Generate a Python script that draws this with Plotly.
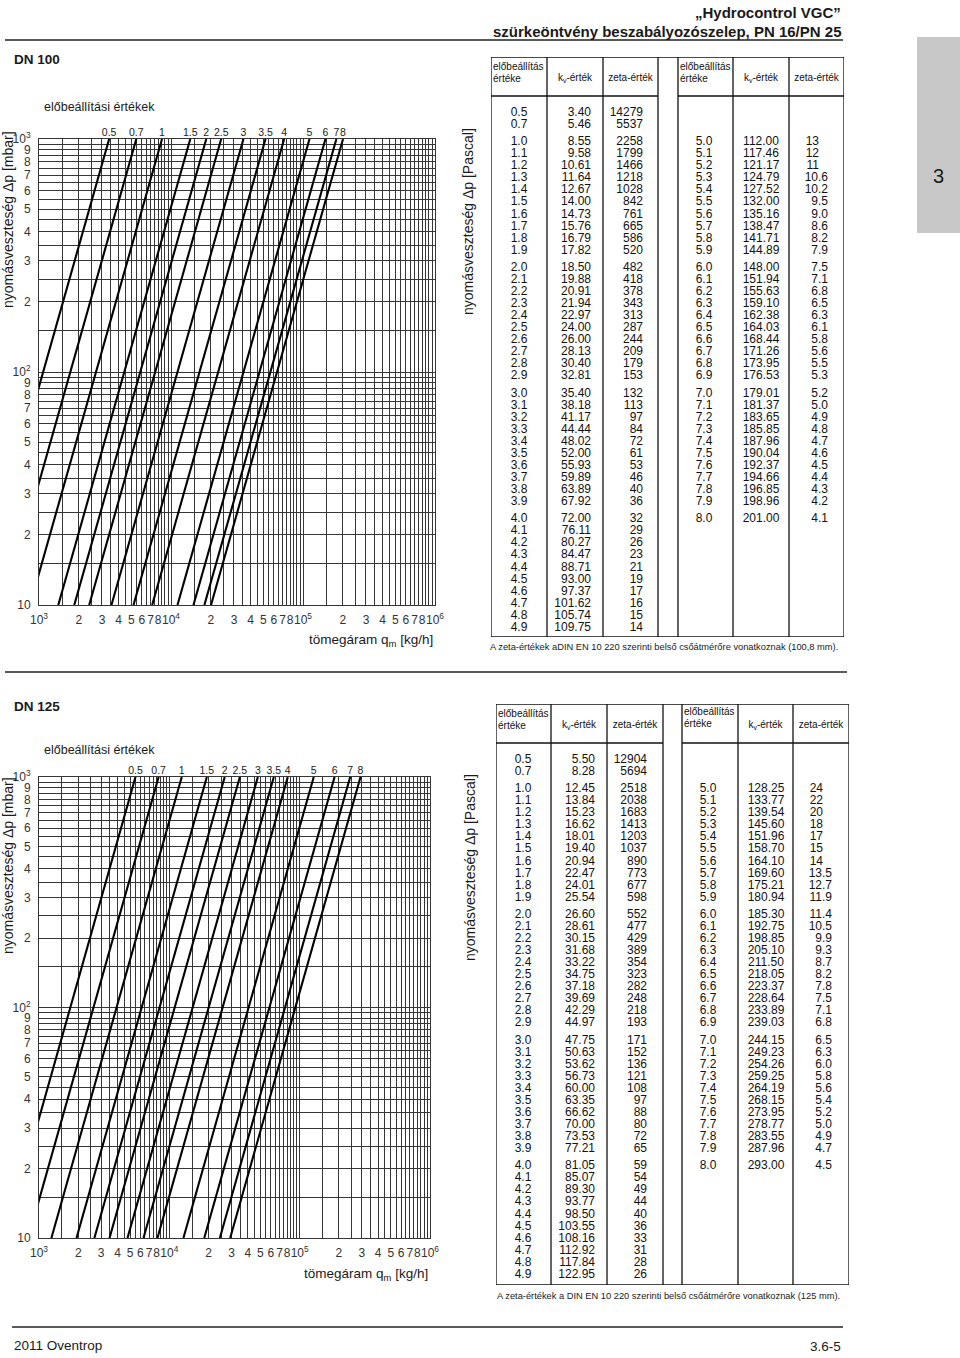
import math
import plotly.graph_objects as go

W, H = 960, 1358

# ---------------- DN 100 table data ----------------
presets_100 = [0.5, 0.7,
               1.0, 1.1, 1.2, 1.3, 1.4, 1.5, 1.6, 1.7, 1.8, 1.9,
               2.0, 2.1, 2.2, 2.3, 2.4, 2.5, 2.6, 2.7, 2.8, 2.9,
               3.0, 3.1, 3.2, 3.3, 3.4, 3.5, 3.6, 3.7, 3.8, 3.9,
               4.0, 4.1, 4.2, 4.3, 4.4, 4.5, 4.6, 4.7, 4.8, 4.9,
               5.0, 5.1, 5.2, 5.3, 5.4, 5.5, 5.6, 5.7, 5.8, 5.9,
               6.0, 6.1, 6.2, 6.3, 6.4, 6.5, 6.6, 6.7, 6.8, 6.9,
               7.0, 7.1, 7.2, 7.3, 7.4, 7.5, 7.6, 7.7, 7.8, 7.9,
               8.0]
kv_100 = [3.40, 5.46,
          8.55, 9.58, 10.61, 11.64, 12.67, 14.00, 14.73, 15.76, 16.79, 17.82,
          18.50, 19.88, 20.91, 21.94, 22.97, 24.00, 26.00, 28.13, 30.40, 32.81,
          35.40, 38.18, 41.17, 44.44, 48.02, 52.00, 55.93, 59.89, 63.89, 67.92,
          72.00, 76.11, 80.27, 84.47, 88.71, 93.00, 97.37, 101.62, 105.74, 109.75,
          112.00, 117.46, 121.17, 124.79, 127.52, 132.00, 135.16, 138.47, 141.71, 144.89,
          148.00, 151.94, 155.63, 159.10, 162.38, 164.03, 168.44, 171.26, 173.95, 176.53,
          179.01, 181.37, 183.65, 185.85, 187.96, 190.04, 192.37, 194.66, 196.85, 198.96,
          201.00]
zeta_100 = [14279, 5537,
            2258, 1799, 1466, 1218, 1028, 842, 761, 665, 586, 520,
            482, 418, 378, 343, 313, 287, 244, 209, 179, 153,
            132, 113, 97, 84, 72, 61, 53, 46, 40, 36,
            32, 29, 26, 23, 21, 19, 17, 16, 15, 14,
            13, 12, 11, 10.6, 10.2, 9.5, 9.0, 8.6, 8.2, 7.9,
            7.5, 7.1, 6.8, 6.5, 6.3, 6.1, 5.8, 5.6, 5.5, 5.3,
            5.2, 5.0, 4.9, 4.8, 4.7, 4.6, 4.5, 4.4, 4.3, 4.2,
            4.1]

# ---------------- DN 125 table data ----------------
presets_125 = list(presets_100)
kv_125 = [5.50, 8.28,
          12.45, 13.84, 15.23, 16.62, 18.01, 19.40, 20.94, 22.47, 24.01, 25.54,
          26.60, 28.61, 30.15, 31.68, 33.22, 34.75, 37.18, 39.69, 42.29, 44.97,
          47.75, 50.63, 53.62, 56.73, 60.00, 63.35, 66.62, 70.00, 73.53, 77.21,
          81.05, 85.07, 89.30, 93.77, 98.50, 103.55, 108.16, 112.92, 117.84, 122.95,
          128.25, 133.77, 139.54, 145.60, 151.96, 158.70, 164.10, 169.60, 175.21, 180.94,
          185.30, 192.75, 198.85, 205.10, 211.50, 218.05, 223.37, 228.64, 233.89, 239.03,
          244.15, 249.23, 254.26, 259.25, 264.19, 268.15, 273.95, 278.77, 283.55, 287.96,
          293.00]
zeta_125 = [12904, 5694,
            2518, 2038, 1683, 1413, 1203, 1037, 890, 773, 677, 598,
            552, 477, 429, 389, 354, 323, 282, 248, 218, 193,
            171, 152, 136, 121, 108, 97, 88, 80, 72, 65,
            59, 54, 49, 44, 40, 36, 33, 31, 28, 26,
            24, 22, 20, 18, 17, 15, 14, 13.5, 12.7, 11.9,
            11.4, 10.5, 9.9, 9.3, 8.7, 8.2, 7.8, 7.5, 7.1, 6.8,
            6.5, 6.3, 6.0, 5.8, 5.6, 5.4, 5.2, 5.0, 4.9, 4.7,
            4.5]

# preset curves drawn in the diagrams and their labels
chart_presets = [0.5, 0.7, 1.0, 1.5, 2.0, 2.5, 3.0, 3.5, 4.0, 5.0, 6.0, 7.0, 8.0]
chart_labels = ["0.5", "0.7", "1", "1.5", "2", "2.5", "3", "3.5", "4", "5", "6", "7", "8"]

DP_RANGE_MBAR = [10, 1000]      # y axis extent (mbar)
QM_RANGE = [1e3, 1e6]           # x axis extent (kg/h)

FONT = "Liberation Sans, Arial, sans-serif"
GRID = "#363636"
INK = "#1a1a1a"


def px(x):
    return x / W


def py(y):
    return 1 - y / H


def log_ticks(e0, e1, kind):
    """labelled ticks (major) and unlabelled half-steps (minor grid)"""
    mj_v, mj_t, mn_v = [], [], []
    for e in range(e0, e1 + 1):
        for k in range(2, 20):
            if e == e1 and k > 2:
                break
            m = k / 2
            v = m * 10 ** e
            if k == 2:
                mj_v.append(v)
                mj_t.append("10" if (kind == "yleft" and e == 1) else f"10<sup>{e}</sup>")
            elif k % 2 == 0 and (kind != "x" or m <= 8):
                mj_v.append(v)
                mj_t.append(str(int(m)))
            else:
                mn_v.append(v)
    return mj_v, mj_t, mn_v


fig = go.Figure()
layout = dict(template="none", width=W, height=H, margin=dict(l=0, r=0, t=0, b=0, pad=0),
              paper_bgcolor="white", plot_bgcolor="white", showlegend=False,
              font=dict(family=FONT, color=INK))
shapes, annotations = [], []

charts = [
    dict(xa="x", ya="y", pa="y3", box=(39, 435, 139, 605), presets=presets_100, kv=kv_100),
    dict(xa="x2", ya="y2", pa="y4", box=(39, 430, 777, 1238), presets=presets_125, kv=kv_125),
]

xt_v, xt_t, xt_m = log_ticks(3, 6, "x")
yl_v, yl_t, yl_m = log_ticks(1, 3, "yleft")
yr_v, yr_t, yr_m = log_ticks(3, 5, "yright")

TICKFONT = dict(size=12, color="#333", family=FONT)
for c in charts:
    l, r, t, b = c["box"]
    xname = "xaxis" + c["xa"][1:]
    yname = "yaxis" + c["ya"][1:]
    pname = "yaxis" + c["pa"][1:]
    layout[xname] = dict(domain=[px(l), px(r)], anchor=c["ya"], type="log", automargin=False,
                         range=[math.log10(QM_RANGE[0]), math.log10(QM_RANGE[1])],
                         tickmode="array", tickvals=xt_v, ticktext=xt_t, tickangle=0,
                         showgrid=True, gridcolor=GRID, gridwidth=1,
                         minor=dict(tickmode="array", tickvals=xt_m, showgrid=True,
                                    gridcolor=GRID, gridwidth=1, ticks=""),
                         showline=True, mirror=True, linecolor=GRID, linewidth=1,
                         zeroline=False, ticks="", ticklabelstandoff=4, tickfont=TICKFONT)
    layout[yname] = dict(domain=[py(b), py(t)], anchor=c["xa"], type="log", automargin=False,
                         range=[math.log10(DP_RANGE_MBAR[0]), math.log10(DP_RANGE_MBAR[1])],
                         tickmode="array", tickvals=yl_v, ticktext=yl_t,
                         showgrid=True, gridcolor=GRID, gridwidth=1,
                         minor=dict(tickmode="array", tickvals=yl_m, showgrid=True,
                                    gridcolor=GRID, gridwidth=1, ticks=""),
                         showline=True, mirror=True, linecolor=GRID, linewidth=1,
                         zeroline=False, ticks="", ticklabelstandoff=5, tickfont=TICKFONT)
    layout[pname] = dict(overlaying=c["ya"], anchor=c["xa"], side="right", type="log",
                         automargin=False,
                         range=[math.log10(DP_RANGE_MBAR[0] * 100), math.log10(DP_RANGE_MBAR[1] * 100)],
                         tickmode="array", tickvals=yr_v, ticktext=yr_t,
                         showgrid=False, showline=False, zeroline=False, ticks="",
                         ticklabelstandoff=5, tickfont=TICKFONT)

    lookup = dict(zip(c["presets"], c["kv"]))
    for p in chart_presets:
        kv = lookup[p]
        dp = DP_RANGE_MBAR
        q = [kv * 1000 * math.sqrt(d / 1000.0) for d in dp]   # kg/h at the given dp
        fig.add_trace(go.Scatter(x=q, y=dp, mode="lines", xaxis=c["xa"], yaxis=c["ya"],
                                 line=dict(color="black", width=2.1), hoverinfo="skip"))
    fig.add_trace(go.Scatter(x=[lookup[p] * 1000 for p in chart_presets],
                             y=[DP_RANGE_MBAR[1]] * len(chart_presets),
                             text=chart_labels, mode="text", textposition="top center",
                             textfont=dict(size=10.5, color="#222", family=FONT),
                             cliponaxis=False, xaxis=c["xa"], yaxis=c["ya"], hoverinfo="skip"))

# ---------------- tables ----------------
tables = [
    dict(xa="x5", ya="y5", box=(491, 844, 57, 637), cols=[56, 112, 167, 187, 242, 298],
         presets=presets_100, kv=kv_100, zeta=zeta_100,
         tx=dict(p_l=28, kv_l=100, z_l=152, p_r=213, kv_r=270, z_dec=337, z_int=328),
         hdr_r_dy=0),
    dict(xa="x6", ya="y6", box=(496, 849, 704, 1285), cols=[55, 111, 167, 186, 242, 297],
         presets=presets_125, kv=kv_125, zeta=zeta_125,
         tx=dict(p_l=27, kv_l=99, z_l=151, p_r=212, kv_r=270, z_dec=336, z_int=327),
         hdr_r_dy=-2),
]
ROW0, PITCH, GAP = 56, 12.07, 5.0
HDR_H = 39
for tb in tables:
    l, r, t, b = tb["box"]
    tw, th = r - l, b - t
    xname = "xaxis" + tb["xa"][1:]
    yname = "yaxis" + tb["ya"][1:]
    layout[xname] = dict(domain=[px(l), px(r)], anchor=tb["ya"], range=[0, tw], visible=False,
                         automargin=False)
    layout[yname] = dict(domain=[py(b), py(t)], anchor=tb["xa"], range=[th, 0], visible=False,
                         automargin=False)
    ln = dict(color="#111", width=1.3)
    ref = dict(xref=tb["xa"], yref=tb["ya"])
    shapes.append(dict(type="rect", x0=0, x1=tw, y0=0, y1=th, line=ln, **ref))
    for cx in tb["cols"]:
        shapes.append(dict(type="line", x0=cx, x1=cx, y0=0, y1=th, line=ln, **ref))
    shapes.append(dict(type="line", x0=0, x1=tb["cols"][2], y0=HDR_H, y1=HDR_H, line=ln, **ref))
    shapes.append(dict(type="line", x0=tb["cols"][3], x1=tw, y0=HDR_H, y1=HDR_H, line=ln, **ref))

    tx = tb["tx"]
    xs, ys, txt, pos = [], [], [], []
    for p, k, z in zip(tb["presets"], tb["kv"], tb["zeta"]):
        right = p >= 5
        q = p - 4 if right else p
        g = int(math.floor(q + 1e-9))
        if q < 1:
            idx = 0 if q < 0.6 else 1
        else:
            idx = 2 + int(round((q - 1) * 10))
        y = ROW0 + idx * PITCH + g * GAP
        zs = f"{z:.1f}" if (z != int(z) or z < 10) else f"{int(z)}"
        if not right:
            xs += [tx["p_l"], tx["kv_l"], tx["z_l"]]
            pos += ["middle center", "middle left", "middle left"]
        else:
            xs += [tx["p_r"], tx["kv_r"], tx["z_dec"] if "." in zs else tx["z_int"]]
            pos += ["middle center", "middle center", "middle left"]
        ys += [y, y, y]
        txt += [f"{p:.1f}", f"{k:.2f}", zs]
    fig.add_trace(go.Scatter(x=xs, y=ys, text=txt, textposition=pos, mode="text",
                             textfont=dict(size=12, color="#111", family=FONT),
                             xaxis=tb["xa"], yaxis=tb["ya"], cliponaxis=False, hoverinfo="skip"))
    c = tb["cols"]
    d = tb["hdr_r_dy"]
    hx = [2, 2, (c[0] + c[1]) / 2, (c[1] + c[2]) / 2, c[3] + 2, c[3] + 2, (c[4] + c[5]) / 2, (c[5] + tw) / 2]
    hy = [10, 22, 21, 21, 10 + d, 22 + d, 21, 21]
    ht = ["előbeállítás", "értéke", "k<sub>v</sub>-érték", "zeta-érték",
          "előbeállítás", "értéke", "k<sub>v</sub>-érték", "zeta-érték"]
    hp = ["middle right", "middle right", "middle center", "middle center",
          "middle right", "middle right", "middle center", "middle center"]
    fig.add_trace(go.Scatter(x=hx, y=hy, text=ht, textposition=hp, mode="text",
                             textfont=dict(size=10, color="#111", family=FONT),
                             xaxis=tb["xa"], yaxis=tb["ya"], cliponaxis=False, hoverinfo="skip"))


# ---------------- page furniture ----------------
def ann(x, y, text, size, xanchor="left", yanchor="middle", bold=False, angle=0, color=INK):
    annotations.append(dict(x=px(x), y=py(y), xref="paper", yref="paper", text=text,
                            showarrow=False, xanchor=xanchor, yanchor=yanchor, textangle=angle,
                            font=dict(size=size, color=color, family=FONT,
                                      weight="bold" if bold else "normal")))


ann(843, 13, "„Hydrocontrol VGC”", 15, xanchor="right", bold=True)
ann(843, 31, "szürkeöntvény beszabályozószelep, PN 16/PN 25", 15, xanchor="right", bold=True)
shapes.append(dict(type="line", xref="paper", yref="paper", x0=px(5), x1=px(843), y0=py(40), y1=py(40),
                   line=dict(color="#222", width=1.3)))
shapes.append(dict(type="rect", xref="paper", yref="paper", x0=px(917), x1=px(960), y0=py(233), y1=py(37),
                   fillcolor="#c8c8c8", line=dict(width=0), layer="below"))
ann(938, 176, "3", 20, xanchor="center")

# DN 100 section
ann(12, 60, "DN 100", 13.5, bold=True)
ann(42, 107, "előbeállítási értékek", 12.5)
ann(8, 220, "nyomásveszteség Δp [mbar]", 14, xanchor="center", angle=-90)
ann(468, 222, "nyomásveszteség Δp [Pascal]", 14, xanchor="center", angle=-90)
ann(435, 640, "tömegáram q<sub>m</sub> [kg/h]", 13.5, xanchor="right")
ann(488, 647, "A zeta-értékek aDIN EN 10 220 szerinti belső csőátmérőre vonatkoznak (100,8 mm).", 9.3)
shapes.append(dict(type="line", xref="paper", yref="paper", x0=px(5), x1=px(847), y0=py(672), y1=py(672),
                   line=dict(color="#222", width=1.3)))

# DN 125 section
ann(12, 706, "DN 125", 13.5, bold=True)
ann(42, 750, "előbeállítási értékek", 12.5)
ann(8, 866, "nyomásveszteség Δp [mbar]", 14, xanchor="center", angle=-90)
ann(470, 868, "nyomásveszteség Δp [Pascal]", 14, xanchor="center", angle=-90)
ann(430, 1274, "tömegáram q<sub>m</sub> [kg/h]", 13.5, xanchor="right")
ann(495, 1296, "A zeta-értékek a DIN EN 10 220 szerinti belső csőátmérőre vonatkoznak (125 mm).", 9.3)

# footer
shapes.append(dict(type="line", xref="paper", yref="paper", x0=px(12), x1=px(843), y0=py(1327), y1=py(1327),
                   line=dict(color="#222", width=1.3)))
ann(12, 1345, "2011 Oventrop", 13.5)
ann(843, 1346, "3.6-5", 13.5, xanchor="right")

layout["shapes"] = shapes
layout["annotations"] = annotations
fig.update_layout(**layout)
fig.write_html("out.html")
